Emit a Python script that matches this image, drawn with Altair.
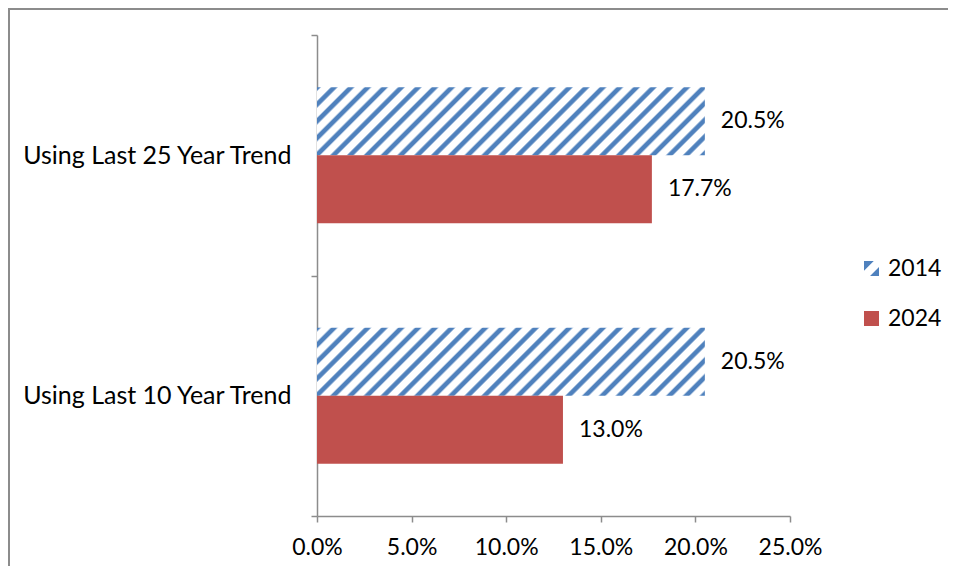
import altair as alt
import pandas as pd

# ---- data ----
categories = ["Using Last 25 Year Trend", "Using Last 10 Year Trend"]
years = ["2014", "2024"]
values_2014 = [0.205, 0.205]
values_2024 = [0.177, 0.130]
x_ticks = [0.0, 0.05, 0.10, 0.15, 0.20, 0.25]

rows = []
for c, v in zip(categories, values_2014):
    rows.append({"trend": c, "year": "2014", "value": v})
for c, v in zip(categories, values_2024):
    rows.append({"trend": c, "year": "2024", "value": v})
df = pd.DataFrame(rows)

# ---- style ----
W, H = 473, 481
BLUE = "#4F81BD"
RED = "#C0504D"
GRAY = "#8C8C8C"
FONT = "Lato"
FS = 23
XMAX = 0.25
BAR_H = 68
band = H / len(categories)
off_pad = (band / BAR_H - 2) / 2


def hatch_gradient(w, h, period=16.8):
    # stripes "/" at 45 degrees: isolines of x+y in pixels
    r = h / w
    total = w + h
    a = total / (w * (1 + r * r))
    b = a * r
    stops = []
    c0 = -4.0
    while c0 < total + period:
        for dc, col in [(0.0, "#FFFFFF"), (2.2, BLUE), (6.6, BLUE), (8.8, "#FFFFFF")]:
            c = c0 + dc
            off = min(max(c / total, 0.0), 1.0)
            stops.append({"offset": off, "color": col})
        c0 += period
    return {"gradient": "linear", "x1": 0, "y1": 0, "x2": a, "y2": b, "stops": stops}


bar_w = values_2014[0] / XMAX * W
grad = hatch_gradient(bar_w, BAR_H)

# hatched legend symbol: square with a white "/" band through it
HATCH_PATH = "M-1,-1L0.3,-1L-1,0.3Z M1,1L1,-0.2L-0.2,1Z"

color_scale = alt.Scale(domain=years, range=[BLUE, RED])
shape_scale = alt.Scale(domain=years, range=[HATCH_PATH, "square"])

legend = alt.Legend(
    title=None,
    orient="none",
    legendX=543,
    legendY=222,
    symbolSize=225,
    symbolStrokeWidth=0,
    symbolOpacity=1,
    labelFontSize=FS,
    labelOffset=5,
    rowPadding=26,
    padding=0,
)

y_enc = alt.Y(
    "trend:N",
    sort=categories,
    title=None,
    scale=alt.Scale(paddingInner=0, paddingOuter=0),
    axis=alt.Axis(tickBand="extent", labelPadding=20, labelLimit=400, labelFontSize=25),
)
yoff_enc = alt.YOffset(
    "year:N", sort=years, scale=alt.Scale(paddingInner=0, paddingOuter=off_pad)
)
x_enc = alt.X(
    "value:Q",
    title=None,
    scale=alt.Scale(domain=[0, XMAX], nice=False),
    axis=alt.Axis(values=x_ticks, format=".1%", labelPadding=14, labelFlush=False),
)

base = alt.Chart(df)

# invisible points that only feed the legend (color + shape)
legend_pts = base.mark_point(filled=True, opacity=0).encode(
    x=x_enc,
    y=y_enc,
    yOffset=yoff_enc,
    color=alt.Color("year:N", scale=color_scale, legend=legend),
    shape=alt.Shape("year:N", scale=shape_scale, legend=legend),
)

bars_2014 = base.transform_filter(alt.datum.year == "2014").mark_bar(
    cornerRadius=0
).encode(
    x=x_enc,
    y=y_enc,
    yOffset=yoff_enc,
    color=alt.Color("year:N", scale=color_scale, legend=legend),
    fill=alt.value(grad),
)

bars_2024 = base.transform_filter(alt.datum.year == "2024").mark_bar(
    cornerRadius=0
).encode(
    x=x_enc,
    y=y_enc,
    yOffset=yoff_enc,
    color=alt.Color("year:N", scale=color_scale, legend=legend),
)

labels = base.mark_text(
    align="left", baseline="middle", dx=16, fontSize=FS, color="#000000", font=FONT
).encode(
    x="value:Q",
    y=alt.Y("trend:N", sort=categories),
    yOffset=yoff_enc,
    text=alt.Text("value:Q", format=".1%"),
)

frame = alt.Chart(alt.Data(values=[{"k": 1}])).mark_rect(
    fillOpacity=0, stroke=GRAY, strokeWidth=2
).encode(
    x=alt.value(-308),
    x2=alt.value(W + 400),
    y=alt.value(-26),
    y2=alt.value(H + 300),
)

chart = alt.layer(frame, legend_pts, bars_2014, bars_2024, labels).properties(
    width=W,
    height=H,
    autosize=alt.AutoSizeParams(type="none"),
    padding={"left": 309, "top": 27, "right": 158, "bottom": 50},
).configure(font=FONT).configure_view(stroke=None).configure_axis(
    grid=False,
    domainColor=GRAY,
    domainWidth=1.5,
    tickColor=GRAY,
    tickWidth=1.5,
    tickSize=6,
    labelFontSize=FS,
    labelColor="#000000",
    labelFont=FONT,
).configure_legend(labelFont=FONT, labelColor="#000000")

chart.save("out.html", embed_options={"renderer": "svg", "actions": False})
